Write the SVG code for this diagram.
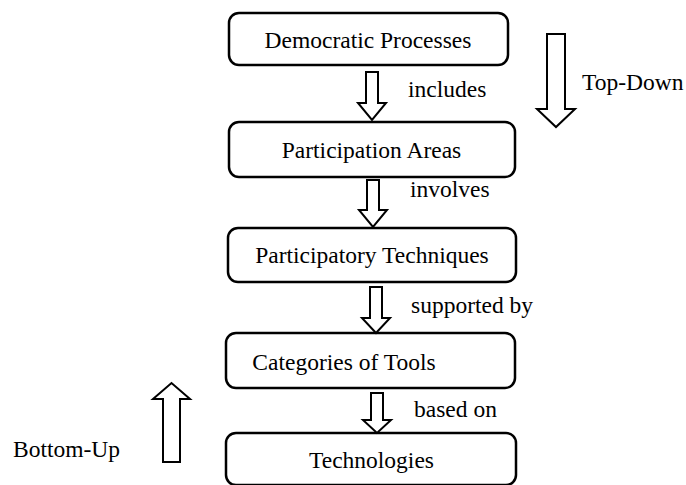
<svg xmlns="http://www.w3.org/2000/svg" width="686" height="485" viewBox="0 0 686 485">
<style>
.box{fill:#fff;stroke:#000;stroke-width:2.5}
.arr{fill:#fff;stroke:#000;stroke-width:2;stroke-linejoin:miter}
text{font-family:"Liberation Serif","Times New Roman",serif;font-size:23.5px;fill:#000}
.c{text-anchor:middle}
</style>
<rect width="686" height="485" fill="#fff"/>
<g id="node-democratic"><rect class="box" x="229" y="13" width="279" height="52" rx="10"/><text class="c" x="368" y="48">Democratic Processes</text></g>
<g id="node-areas"><rect class="box" x="229" y="122" width="286" height="55" rx="10"/><text class="c" x="371.5" y="158">Participation Areas</text></g>
<g id="node-techniques"><rect class="box" x="228" y="228" width="288" height="54" rx="10"/><text class="c" x="372" y="263">Participatory Techniques</text></g>
<g id="node-tools"><rect class="box" x="226" y="333" width="289" height="55" rx="10"/><text class="c" x="344" y="370">Categories of Tools</text></g>
<g id="node-technologies"><rect class="box" x="226" y="433" width="290" height="52" rx="10"/><text class="c" x="371.5" y="468">Technologies</text></g>
<g id="connectors">
<path class="arr" d="M366,72 H378 V103 H386 L372,120 L358,103 H366 Z"/>
<path class="arr" d="M367,180 H379 V210 H387 L373,227 L359,210 H367 Z"/>
<path class="arr" d="M370,287 H382 V318 H390 L376,333 L362,318 H370 Z"/>
<path class="arr" d="M371,393 H383 V420 H391 L377,433 L363,420 H371 Z"/>
<path class="arr" d="M547,34 H565 V109 H575 L556,127 L537,109 H547 Z"/>
<path class="arr" d="M163,462 H180 V399 H190 L171.5,383 L153,399 H163 Z"/>
</g>
<text x="408" y="97">includes</text>
<text x="410" y="197">involves</text>
<text x="411" y="313">supported by</text>
<text x="414" y="417">based on</text>
<text x="582" y="90">Top-Down</text>
<text x="13" y="457">Bottom-Up</text>
</svg>
